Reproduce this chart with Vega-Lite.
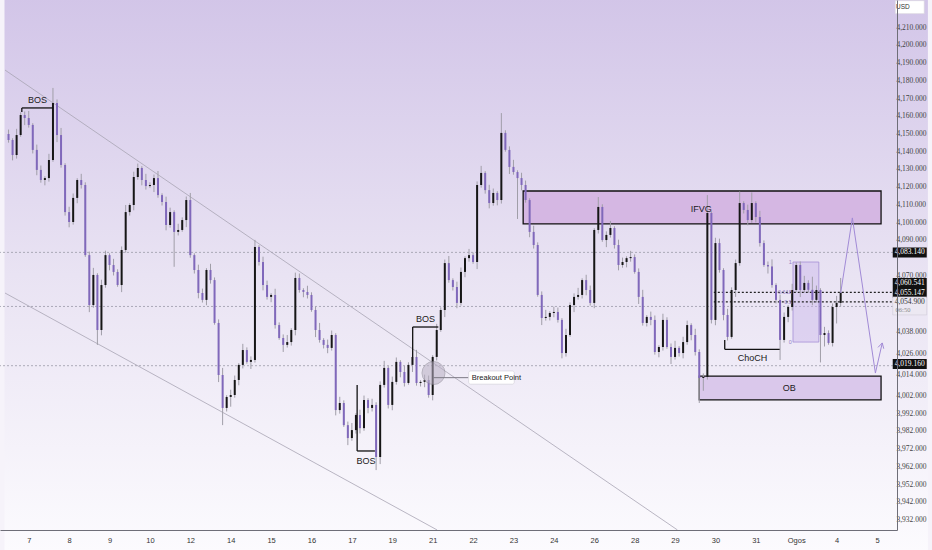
{
  "$schema": "https://vega.github.io/schema/vega-lite/v6.json",
  "width": 897,
  "height": 530,
  "autosize": {"type": "none"},
  "padding": {"left": 0, "top": 0, "right": 35, "bottom": 20},
  "background": "#f6f3fa",
  "config": {"view": {"stroke": null}, "font": "Liberation Sans"},
  "datasets": {
    "bg": [{"t1": -6, "t2": 222.6, "p1": 4227, "p2": 3914}],
    "ylabels": [
      {"p": 4210}, {"p": 4200}, {"p": 4190}, {"p": 4180}, {"p": 4170}, {"p": 4160}, {"p": 4150},
      {"p": 4140}, {"p": 4130}, {"p": 4120}, {"p": 4110}, {"p": 4100}, {"p": 4090}, {"p": 4070},
      {"p": 4038}, {"p": 4026}, {"p": 4014}, {"p": 4002}, {"p": 3992}, {"p": 3982}, {"p": 3972},
      {"p": 3962}, {"p": 3952}, {"p": 3942}, {"p": 3932}
    ],
    "hlines": [{"p": 4083.14}, {"p": 4052.6}, {"p": 4019.16}],
    "fiblevels": [
      {"t1": 169.6, "t2": 213.71, "p": 4060.541},
      {"t1": 169.6, "t2": 213.71, "p": 4055.147}
    ],
    "channel": [
      {"t1": -5.875, "p1": 4186.1, "t2": 160.6, "p2": 3926.4},
      {"t1": -5.875, "p1": 4060.2, "t2": 101.1, "p2": 3926.4}
    ],
    "zones": [
      {"name": "IFVG", "t1": 122.4, "t2": 211.0, "p1": 4117.8, "p2": 4099.2},
      {"name": "OB", "t1": 166.0, "t2": 211.0, "p1": 4013.3, "p2": 3999.8}
    ],
    "fibbox": [{"t1": 189.2, "t2": 195.6, "p1": 4077.7, "p2": 4032.5}],
    "brackets": [
      {"t1": -1.71, "p1": 4164.7, "t2": 5.88, "p2": 4164.7},
      {"t1": -1.71, "p1": 4164.7, "t2": -1.71, "p2": 4162.4},
      {"t1": 81.3, "p1": 3971.0, "t2": 85.7, "p2": 3971.0},
      {"t1": 81.3, "p1": 4008.3, "t2": 81.3, "p2": 3971.0},
      {"t1": 95.05, "p1": 4041.0, "t2": 101.4, "p2": 4041.0},
      {"t1": 95.05, "p1": 4041.0, "t2": 95.05, "p2": 4024.1},
      {"t1": 172.3, "p1": 4028.4, "t2": 185.9, "p2": 4028.4},
      {"t1": 172.3, "p1": 4033.7, "t2": 172.3, "p2": 4028.4}
    ],
    "labels": [
      {"t": 2.2, "p": 4169.2, "txt": "BOS"},
      {"t": 83.5, "p": 3965.4, "txt": "BOS"},
      {"t": 98.2, "p": 4045.5, "txt": "BOS"},
      {"t": 179.2, "p": 4023.7, "txt": "ChoCH"},
      {"t": 166.5, "p": 4107.6, "txt": "IFVG"},
      {"t": 188.3, "p": 4006.4, "txt": "OB"}
    ],
    "fiblabels": [
      {"t": 188.9, "p": 4077.7, "txt": "1"},
      {"t": 188.9, "p": 4060.5, "txt": "0.618"},
      {"t": 188.9, "p": 4055.1, "txt": "0.5"},
      {"t": 188.9, "p": 4032.5, "txt": "0"}
    ],
    "breakout": [{"t": 100.2, "p": 4015.0}],
    "breakoutlink": [{"t1": 100.2, "t2": 108.9, "p": 4012.4}],
    "breakoutbox": [{"t1": 108.9, "t2": 120.2, "p1": 4016.2, "p2": 4008.7, "t": 109.7, "p": 4012.4, "txt": "Breakout Point"}],
    "path": [
      {"i": 0, "t": 201.0, "p": 4060.2},
      {"i": 1, "t": 203.9, "p": 4102.6},
      {"i": 2, "t": 209.6, "p": 4015.0},
      {"i": 3, "t": 211.3, "p": 4032.0}
    ],
    "arrowhead": [
      {"t1": 210.25, "p1": 4029.5, "t2": 211.3, "p2": 4032.0},
      {"t1": 211.67, "p1": 4028.75, "t2": 211.3, "p2": 4032.0}
    ],
    "tags": [
      {"t": 218.1, "p": 4083.14, "txt": "4,083.140"},
      {"t": 218.1, "p": 4065.9, "txt": "4,060.541"},
      {"t": 218.1, "p": 4060.2, "txt": "4,055.147"},
      {"t": 218.1, "p": 4020.1, "txt": "4,019.160"}
    ],
    "countdown": [{"t": 218.1, "p": 4052.9, "tx": 214.6, "p1": 4055.1, "p2": 4050.6, "txt": "4,054.900", "txt2": "06:50"}],
    "usd": [{"t": 218.1, "p": 4221.6, "tx": 214.7, "txt": "USD"}],
    "candles": [
      {"t": -5, "o": 4150.0, "h": 4152.5, "l": 4145.1, "c": 4146.6},
      {"t": -4, "o": 4146.6, "h": 4147.6, "l": 4135.1, "c": 4138.1},
      {"t": -3, "o": 4138.1, "h": 4152.9, "l": 4136.1, "c": 4149.4},
      {"t": -2, "o": 4149.4, "h": 4162.2, "l": 4148.4, "c": 4160.7},
      {"t": -1, "o": 4160.7, "h": 4162.7, "l": 4155.0, "c": 4159.0},
      {"t": 0, "o": 4159.0, "h": 4163.0, "l": 4153.6, "c": 4155.1},
      {"t": 1, "o": 4155.1, "h": 4156.1, "l": 4139.0, "c": 4141.0},
      {"t": 2, "o": 4141.0, "h": 4144.0, "l": 4126.7, "c": 4129.7},
      {"t": 3, "o": 4129.7, "h": 4132.2, "l": 4122.5, "c": 4124.0},
      {"t": 4, "o": 4124.0, "h": 4126.1, "l": 4121.0, "c": 4125.1},
      {"t": 5, "o": 4125.1, "h": 4138.8, "l": 4123.1, "c": 4135.3},
      {"t": 6, "o": 4135.3, "h": 4176.0, "l": 4134.3, "c": 4167.5},
      {"t": 7, "o": 4167.5, "h": 4169.5, "l": 4145.4, "c": 4149.4},
      {"t": 8, "o": 4149.4, "h": 4153.4, "l": 4131.0, "c": 4132.5},
      {"t": 9, "o": 4132.5, "h": 4133.5, "l": 4103.9, "c": 4105.9},
      {"t": 10, "o": 4105.9, "h": 4108.9, "l": 4097.3, "c": 4100.3},
      {"t": 11, "o": 4100.3, "h": 4116.4, "l": 4098.8, "c": 4113.9},
      {"t": 12, "o": 4113.9, "h": 4125.0, "l": 4110.9, "c": 4124.0},
      {"t": 13, "o": 4124.0, "h": 4127.5, "l": 4119.2, "c": 4121.2},
      {"t": 14, "o": 4121.2, "h": 4122.7, "l": 4080.6, "c": 4081.6},
      {"t": 15, "o": 4081.6, "h": 4083.6, "l": 4049.4, "c": 4053.4},
      {"t": 16, "o": 4053.4, "h": 4074.4, "l": 4051.9, "c": 4070.4},
      {"t": 17, "o": 4070.4, "h": 4071.4, "l": 4030.9, "c": 4039.3},
      {"t": 18, "o": 4039.3, "h": 4067.7, "l": 4036.3, "c": 4064.7},
      {"t": 19, "o": 4064.7, "h": 4084.1, "l": 4063.2, "c": 4081.6},
      {"t": 20, "o": 4081.6, "h": 4082.6, "l": 4073.0, "c": 4076.0},
      {"t": 21, "o": 4076.0, "h": 4079.5, "l": 4070.1, "c": 4072.1},
      {"t": 22, "o": 4072.1, "h": 4073.6, "l": 4063.7, "c": 4064.7},
      {"t": 23, "o": 4064.7, "h": 4086.5, "l": 4060.7, "c": 4084.5},
      {"t": 24, "o": 4084.5, "h": 4109.9, "l": 4083.0, "c": 4105.9},
      {"t": 25, "o": 4105.9, "h": 4110.9, "l": 4103.9, "c": 4109.9},
      {"t": 26, "o": 4109.9, "h": 4128.7, "l": 4106.9, "c": 4125.7},
      {"t": 27, "o": 4125.7, "h": 4133.3, "l": 4124.2, "c": 4130.8},
      {"t": 28, "o": 4130.8, "h": 4131.8, "l": 4121.0, "c": 4124.0},
      {"t": 29, "o": 4124.0, "h": 4127.5, "l": 4118.6, "c": 4120.6},
      {"t": 30, "o": 4120.6, "h": 4122.7, "l": 4119.6, "c": 4121.2},
      {"t": 31, "o": 4121.2, "h": 4127.1, "l": 4117.2, "c": 4125.1},
      {"t": 32, "o": 4125.1, "h": 4129.1, "l": 4114.0, "c": 4115.5},
      {"t": 33, "o": 4115.5, "h": 4116.5, "l": 4109.6, "c": 4111.6},
      {"t": 34, "o": 4111.6, "h": 4114.6, "l": 4095.6, "c": 4098.6},
      {"t": 35, "o": 4098.6, "h": 4108.4, "l": 4097.1, "c": 4105.9},
      {"t": 36, "o": 4105.9, "h": 4106.9, "l": 4075.0, "c": 4094.7},
      {"t": 37, "o": 4094.7, "h": 4099.3, "l": 4092.7, "c": 4095.8},
      {"t": 38, "o": 4095.8, "h": 4102.9, "l": 4094.8, "c": 4101.4},
      {"t": 39, "o": 4101.4, "h": 4114.7, "l": 4097.4, "c": 4112.7},
      {"t": 40, "o": 4112.7, "h": 4116.7, "l": 4080.1, "c": 4081.6},
      {"t": 41, "o": 4081.6, "h": 4082.6, "l": 4071.2, "c": 4073.2},
      {"t": 42, "o": 4073.2, "h": 4076.2, "l": 4057.2, "c": 4060.2},
      {"t": 43, "o": 4060.2, "h": 4062.7, "l": 4054.8, "c": 4056.3},
      {"t": 44, "o": 4056.3, "h": 4074.2, "l": 4053.3, "c": 4073.2},
      {"t": 45, "o": 4073.2, "h": 4076.7, "l": 4065.5, "c": 4067.5},
      {"t": 46, "o": 4067.5, "h": 4069.0, "l": 4042.3, "c": 4043.3},
      {"t": 47, "o": 4043.3, "h": 4045.3, "l": 4009.9, "c": 4013.9},
      {"t": 48, "o": 4013.9, "h": 4017.9, "l": 3985.6, "c": 3995.3},
      {"t": 49, "o": 3995.3, "h": 4002.5, "l": 3993.3, "c": 4001.5},
      {"t": 50, "o": 4001.5, "h": 4005.6, "l": 3996.0, "c": 4002.6},
      {"t": 51, "o": 4002.6, "h": 4013.6, "l": 4001.1, "c": 4011.1},
      {"t": 52, "o": 4011.1, "h": 4020.6, "l": 4008.1, "c": 4019.6},
      {"t": 53, "o": 4019.6, "h": 4031.5, "l": 4017.6, "c": 4028.0},
      {"t": 54, "o": 4028.0, "h": 4029.5, "l": 4020.3, "c": 4021.3},
      {"t": 55, "o": 4021.3, "h": 4024.4, "l": 4017.3, "c": 4022.4},
      {"t": 56, "o": 4022.4, "h": 4090.2, "l": 4020.9, "c": 4086.2},
      {"t": 57, "o": 4086.2, "h": 4087.2, "l": 4075.7, "c": 4077.7},
      {"t": 58, "o": 4077.7, "h": 4080.7, "l": 4061.7, "c": 4064.7},
      {"t": 59, "o": 4064.7, "h": 4067.2, "l": 4056.5, "c": 4058.0},
      {"t": 60, "o": 4058.0, "h": 4060.1, "l": 4055.0, "c": 4059.1},
      {"t": 61, "o": 4059.1, "h": 4062.6, "l": 4040.1, "c": 4042.1},
      {"t": 62, "o": 4042.1, "h": 4043.6, "l": 4033.8, "c": 4034.8},
      {"t": 63, "o": 4034.8, "h": 4036.8, "l": 4026.9, "c": 4030.9},
      {"t": 64, "o": 4030.9, "h": 4036.5, "l": 4029.4, "c": 4032.5},
      {"t": 65, "o": 4032.5, "h": 4040.3, "l": 4030.5, "c": 4039.3},
      {"t": 66, "o": 4039.3, "h": 4071.7, "l": 4036.3, "c": 4068.7},
      {"t": 67, "o": 4068.7, "h": 4071.2, "l": 4060.4, "c": 4061.9},
      {"t": 68, "o": 4061.9, "h": 4062.9, "l": 4057.8, "c": 4060.8},
      {"t": 69, "o": 4060.8, "h": 4064.3, "l": 4057.1, "c": 4059.1},
      {"t": 70, "o": 4059.1, "h": 4060.6, "l": 4049.6, "c": 4050.6},
      {"t": 71, "o": 4050.6, "h": 4052.6, "l": 4035.3, "c": 4039.3},
      {"t": 72, "o": 4039.3, "h": 4043.3, "l": 4032.2, "c": 4033.7},
      {"t": 73, "o": 4033.7, "h": 4034.7, "l": 4028.9, "c": 4030.9},
      {"t": 74, "o": 4030.9, "h": 4033.9, "l": 4026.2, "c": 4029.2},
      {"t": 75, "o": 4029.2, "h": 4039.0, "l": 4027.7, "c": 4036.5},
      {"t": 76, "o": 4036.5, "h": 4037.5, "l": 3991.1, "c": 3994.1},
      {"t": 77, "o": 3994.1, "h": 4001.6, "l": 3992.1, "c": 3998.1},
      {"t": 78, "o": 3998.1, "h": 3999.6, "l": 3984.6, "c": 3985.6},
      {"t": 79, "o": 3985.6, "h": 3987.6, "l": 3974.3, "c": 3978.3},
      {"t": 80, "o": 3978.3, "h": 3986.8, "l": 3976.8, "c": 3982.8},
      {"t": 81, "o": 3982.8, "h": 3992.3, "l": 3980.8, "c": 3991.3},
      {"t": 82, "o": 3991.3, "h": 3994.3, "l": 3980.9, "c": 3983.9},
      {"t": 83, "o": 3983.9, "h": 4002.3, "l": 3982.4, "c": 3999.8},
      {"t": 84, "o": 3999.8, "h": 4000.8, "l": 3992.3, "c": 3995.3},
      {"t": 85, "o": 3995.3, "h": 4000.5, "l": 3993.3, "c": 3997.0},
      {"t": 86, "o": 3997.0, "h": 3998.5, "l": 3960.2, "c": 3967.6},
      {"t": 87, "o": 3967.6, "h": 4010.3, "l": 3963.6, "c": 4008.3},
      {"t": 88, "o": 4008.3, "h": 4021.9, "l": 4006.8, "c": 4017.9},
      {"t": 89, "o": 4017.9, "h": 4018.9, "l": 3995.0, "c": 3997.0},
      {"t": 90, "o": 3997.0, "h": 4013.0, "l": 3994.0, "c": 4010.0},
      {"t": 91, "o": 4010.0, "h": 4023.8, "l": 4008.5, "c": 4021.3},
      {"t": 92, "o": 4021.3, "h": 4022.3, "l": 4012.6, "c": 4015.6},
      {"t": 93, "o": 4015.6, "h": 4019.1, "l": 4007.4, "c": 4009.4},
      {"t": 94, "o": 4009.4, "h": 4021.1, "l": 4008.4, "c": 4019.6},
      {"t": 95, "o": 4019.6, "h": 4026.1, "l": 4015.6, "c": 4024.1},
      {"t": 96, "o": 4024.1, "h": 4028.1, "l": 4007.9, "c": 4009.4},
      {"t": 97, "o": 4009.4, "h": 4011.0, "l": 4007.4, "c": 4010.0},
      {"t": 98, "o": 4010.0, "h": 4014.1, "l": 4007.0, "c": 4011.1},
      {"t": 99, "o": 4011.1, "h": 4013.6, "l": 4001.1, "c": 4002.6},
      {"t": 100, "o": 4002.6, "h": 4025.1, "l": 3999.6, "c": 4024.1},
      {"t": 101, "o": 4024.1, "h": 4042.8, "l": 4022.1, "c": 4039.3},
      {"t": 102, "o": 4039.3, "h": 4052.1, "l": 4038.3, "c": 4050.6},
      {"t": 103, "o": 4050.6, "h": 4079.1, "l": 4046.6, "c": 4077.1},
      {"t": 104, "o": 4077.1, "h": 4081.1, "l": 4066.0, "c": 4067.5},
      {"t": 105, "o": 4067.5, "h": 4068.5, "l": 4061.6, "c": 4063.6},
      {"t": 106, "o": 4063.6, "h": 4066.6, "l": 4051.6, "c": 4054.6},
      {"t": 107, "o": 4054.6, "h": 4074.6, "l": 4053.1, "c": 4072.1},
      {"t": 108, "o": 4072.1, "h": 4080.9, "l": 4069.1, "c": 4079.9},
      {"t": 109, "o": 4079.9, "h": 4085.1, "l": 4077.9, "c": 4081.6},
      {"t": 110, "o": 4081.6, "h": 4083.1, "l": 4076.7, "c": 4077.7},
      {"t": 111, "o": 4077.7, "h": 4123.2, "l": 4073.7, "c": 4121.2},
      {"t": 112, "o": 4121.2, "h": 4132.0, "l": 4119.7, "c": 4128.0},
      {"t": 113, "o": 4128.0, "h": 4129.0, "l": 4116.3, "c": 4118.3},
      {"t": 114, "o": 4118.3, "h": 4121.3, "l": 4108.0, "c": 4111.0},
      {"t": 115, "o": 4111.0, "h": 4119.2, "l": 4109.5, "c": 4116.7},
      {"t": 116, "o": 4116.7, "h": 4117.7, "l": 4109.7, "c": 4112.7},
      {"t": 117, "o": 4112.7, "h": 4161.8, "l": 4110.7, "c": 4150.6},
      {"t": 118, "o": 4150.6, "h": 4152.1, "l": 4140.0, "c": 4141.0},
      {"t": 119, "o": 4141.0, "h": 4143.0, "l": 4127.4, "c": 4131.4},
      {"t": 120, "o": 4131.4, "h": 4135.4, "l": 4127.0, "c": 4128.5},
      {"t": 121, "o": 4128.5, "h": 4129.5, "l": 4102.0, "c": 4125.1},
      {"t": 122, "o": 4125.1, "h": 4128.1, "l": 4118.2, "c": 4121.2},
      {"t": 123, "o": 4121.2, "h": 4123.7, "l": 4111.2, "c": 4112.7},
      {"t": 124, "o": 4112.7, "h": 4113.7, "l": 4091.7, "c": 4094.7},
      {"t": 125, "o": 4094.7, "h": 4098.2, "l": 4085.3, "c": 4087.3},
      {"t": 126, "o": 4087.3, "h": 4088.8, "l": 4058.1, "c": 4059.1},
      {"t": 127, "o": 4059.1, "h": 4061.1, "l": 4042.1, "c": 4046.1},
      {"t": 128, "o": 4046.1, "h": 4050.7, "l": 4044.6, "c": 4046.7},
      {"t": 129, "o": 4046.7, "h": 4049.9, "l": 4044.7, "c": 4048.9},
      {"t": 130, "o": 4048.9, "h": 4052.5, "l": 4046.5, "c": 4049.5},
      {"t": 131, "o": 4049.5, "h": 4052.0, "l": 4043.5, "c": 4045.0},
      {"t": 132, "o": 4045.0, "h": 4046.0, "l": 4023.3, "c": 4026.3},
      {"t": 133, "o": 4026.3, "h": 4040.0, "l": 4024.3, "c": 4036.5},
      {"t": 134, "o": 4036.5, "h": 4054.9, "l": 4035.5, "c": 4053.4},
      {"t": 135, "o": 4053.4, "h": 4060.0, "l": 4049.4, "c": 4058.0},
      {"t": 136, "o": 4058.0, "h": 4063.1, "l": 4056.5, "c": 4059.1},
      {"t": 137, "o": 4059.1, "h": 4068.5, "l": 4057.1, "c": 4067.5},
      {"t": 138, "o": 4067.5, "h": 4070.5, "l": 4058.9, "c": 4061.9},
      {"t": 139, "o": 4061.9, "h": 4064.4, "l": 4053.1, "c": 4054.6},
      {"t": 140, "o": 4054.6, "h": 4096.8, "l": 4051.6, "c": 4095.8},
      {"t": 141, "o": 4095.8, "h": 4114.4, "l": 4093.8, "c": 4108.8},
      {"t": 142, "o": 4108.8, "h": 4110.3, "l": 4089.1, "c": 4090.1},
      {"t": 143, "o": 4090.1, "h": 4095.0, "l": 4086.1, "c": 4093.0},
      {"t": 144, "o": 4093.0, "h": 4100.9, "l": 4091.5, "c": 4096.9},
      {"t": 145, "o": 4096.9, "h": 4097.9, "l": 4085.3, "c": 4087.3},
      {"t": 146, "o": 4087.3, "h": 4090.3, "l": 4073.0, "c": 4076.0},
      {"t": 147, "o": 4076.0, "h": 4080.2, "l": 4074.5, "c": 4077.7},
      {"t": 148, "o": 4077.7, "h": 4080.9, "l": 4074.7, "c": 4079.9},
      {"t": 149, "o": 4079.9, "h": 4084.0, "l": 4077.9, "c": 4080.5},
      {"t": 150, "o": 4080.5, "h": 4082.0, "l": 4071.1, "c": 4072.1},
      {"t": 151, "o": 4072.1, "h": 4074.1, "l": 4054.0, "c": 4058.0},
      {"t": 152, "o": 4058.0, "h": 4062.0, "l": 4041.8, "c": 4043.3},
      {"t": 153, "o": 4043.3, "h": 4047.7, "l": 4041.3, "c": 4046.7},
      {"t": 154, "o": 4046.7, "h": 4049.7, "l": 4042.0, "c": 4045.0},
      {"t": 155, "o": 4045.0, "h": 4047.5, "l": 4025.4, "c": 4026.9},
      {"t": 156, "o": 4026.9, "h": 4030.7, "l": 4023.9, "c": 4029.7},
      {"t": 157, "o": 4029.7, "h": 4048.5, "l": 4027.7, "c": 4045.0},
      {"t": 158, "o": 4045.0, "h": 4046.5, "l": 4028.7, "c": 4029.7},
      {"t": 159, "o": 4029.7, "h": 4031.7, "l": 4020.1, "c": 4024.1},
      {"t": 160, "o": 4024.1, "h": 4033.2, "l": 4022.6, "c": 4029.2},
      {"t": 161, "o": 4029.2, "h": 4030.2, "l": 4024.3, "c": 4026.3},
      {"t": 162, "o": 4026.3, "h": 4035.5, "l": 4023.3, "c": 4032.5},
      {"t": 163, "o": 4032.5, "h": 4044.6, "l": 4031.0, "c": 4042.1},
      {"t": 164, "o": 4042.1, "h": 4043.1, "l": 4033.5, "c": 4036.5},
      {"t": 165, "o": 4036.5, "h": 4040.0, "l": 4024.9, "c": 4026.9},
      {"t": 166, "o": 4026.9, "h": 4028.4, "l": 3998.1, "c": 4012.2},
      {"t": 167, "o": 4012.2, "h": 4014.8, "l": 4005.0, "c": 4012.8},
      {"t": 168, "o": 4012.8, "h": 4115.5, "l": 4011.3, "c": 4105.4},
      {"t": 169, "o": 4105.4, "h": 4106.4, "l": 4043.0, "c": 4045.0},
      {"t": 170, "o": 4045.0, "h": 4091.4, "l": 4042.0, "c": 4088.4},
      {"t": 171, "o": 4088.4, "h": 4090.9, "l": 4071.7, "c": 4073.2},
      {"t": 172, "o": 4073.2, "h": 4074.2, "l": 4044.8, "c": 4047.8},
      {"t": 173, "o": 4047.8, "h": 4051.3, "l": 4033.4, "c": 4035.4},
      {"t": 174, "o": 4035.4, "h": 4063.4, "l": 4034.4, "c": 4061.9},
      {"t": 175, "o": 4061.9, "h": 4079.1, "l": 4058.0, "c": 4077.1},
      {"t": 176, "o": 4077.1, "h": 4117.5, "l": 4075.6, "c": 4111.0},
      {"t": 177, "o": 4111.0, "h": 4112.0, "l": 4105.1, "c": 4107.1},
      {"t": 178, "o": 4107.1, "h": 4110.1, "l": 4098.4, "c": 4101.4},
      {"t": 179, "o": 4101.4, "h": 4117.0, "l": 4099.9, "c": 4111.0},
      {"t": 180, "o": 4111.0, "h": 4112.0, "l": 4100.1, "c": 4103.1},
      {"t": 181, "o": 4103.1, "h": 4106.6, "l": 4086.4, "c": 4088.4},
      {"t": 182, "o": 4088.4, "h": 4089.9, "l": 4075.0, "c": 4076.0},
      {"t": 183, "o": 4076.0, "h": 4078.0, "l": 4071.2, "c": 4075.2},
      {"t": 184, "o": 4075.2, "h": 4079.2, "l": 4063.2, "c": 4064.7},
      {"t": 185, "o": 4064.7, "h": 4065.7, "l": 4054.3, "c": 4056.3},
      {"t": 186, "o": 4056.3, "h": 4059.3, "l": 4022.4, "c": 4033.7},
      {"t": 187, "o": 4033.7, "h": 4049.2, "l": 4032.2, "c": 4046.7},
      {"t": 188, "o": 4046.7, "h": 4053.3, "l": 4043.7, "c": 4052.3},
      {"t": 189, "o": 4052.3, "h": 4065.4, "l": 4050.3, "c": 4061.9},
      {"t": 190, "o": 4061.9, "h": 4077.5, "l": 4060.9, "c": 4076.0},
      {"t": 191, "o": 4076.0, "h": 4078.0, "l": 4057.9, "c": 4061.9},
      {"t": 192, "o": 4061.9, "h": 4069.9, "l": 4060.4, "c": 4065.9},
      {"t": 193, "o": 4065.9, "h": 4067.4, "l": 4060.4, "c": 4062.0},
      {"t": 194, "o": 4062.0, "h": 4069.4, "l": 4053.3, "c": 4056.3},
      {"t": 195, "o": 4056.3, "h": 4064.4, "l": 4054.8, "c": 4061.9},
      {"t": 196, "o": 4061.9, "h": 4062.9, "l": 4021.0, "c": 4036.5},
      {"t": 197, "o": 4036.5, "h": 4041.1, "l": 4030.0, "c": 4037.6},
      {"t": 198, "o": 4037.6, "h": 4039.1, "l": 4031.0, "c": 4032.0},
      {"t": 199, "o": 4032.0, "h": 4054.3, "l": 4030.0, "c": 4052.3},
      {"t": 200, "o": 4052.3, "h": 4058.6, "l": 4043.0, "c": 4054.6},
      {"t": 201, "o": 4054.6, "h": 4068.7, "l": 4052.6, "c": 4060.5}
    ]
  },
  "layer": [
    {
      "data": {"name": "bg"},
      "mark": {
        "type": "rect",
        "fill": {
          "gradient": "linear",
          "x1": 0, "y1": 0, "x2": 0, "y2": 1,
          "stops": [
            {"offset": 0, "color": "#d2c5e8"},
            {"offset": 0.5, "color": "#e9e3f3"},
            {"offset": 1, "color": "#fcfbfe"}
          ]
        }
      },
      "encoding": {
        "x": {
          "field": "t1", "type": "quantitative",
          "scale": {"domain": [-5.875, 213.71], "nice": false, "zero": false},
          "axis": {
            "title": null, "zindex": 1, "values": [0, 10, 20, 30, 40, 50, 60, 70, 80, 90, 100, 110, 120, 130, 140, 150, 160, 170, 180, 190, 200, 210],
            "labelExpr": "['7','8','9','10','12','14','15','16','17','19','21','22','23','24','26','28','29','30','31','Ogos','4','5'][round(datum.value / 10)]",
            "ticks": false, "grid": false, "labelPadding": 6, "labelFontSize": 7.5, "labelColor": "#333333",
            "domainColor": "#6e6e78", "domainWidth": 1, "labelFont": "Liberation Sans", "labelOverlap": false
          }
        },
        "x2": {"field": "t2"},
        "y": {
          "field": "p1", "type": "quantitative",
          "scale": {"domain": [3926.38, 4225.65], "nice": false, "zero": false},
          "axis": {
            "title": null, "orient": "right", "zindex": 1, "labels": false,
            "ticks": false, "grid": false, "domainColor": "#6e6e78", "domainWidth": 1
          }
        },
        "y2": {"field": "p2"}
      }
    },
    {
      "data": {"name": "ylabels"},
      "mark": {"type": "text", "fontSize": 7.5, "font": "Liberation Sans Narrow", "color": "#444444", "align": "left", "baseline": "middle"},
      "encoding": {
        "x": {"datum": 214.8, "type": "quantitative"},
        "y": {"field": "p", "type": "quantitative"},
        "text": {"field": "p", "type": "quantitative", "format": ",.3f"}
      }
    },
    {
      "data": {"name": "hlines"},
      "mark": {"type": "rule", "color": "#9c9aa8", "strokeWidth": 0.8, "strokeDash": [2, 2]},
      "encoding": {"y": {"field": "p", "type": "quantitative"}}
    },
    {
      "data": {"name": "channel"},
      "mark": {"type": "rule", "color": "#a8a5b4", "strokeWidth": 0.8},
      "encoding": {
        "x": {"field": "t1", "type": "quantitative"},
        "x2": {"field": "t2"},
        "y": {"field": "p1", "type": "quantitative"},
        "y2": {"field": "p2"}
      }
    },
    {
      "data": {"name": "zones"},
      "mark": {"type": "rect", "stroke": "#111111", "strokeWidth": 1.3},
      "encoding": {
        "x": {"field": "t1", "type": "quantitative"},
        "x2": {"field": "t2"},
        "y": {"field": "p1", "type": "quantitative"},
        "y2": {"field": "p2"},
        "fill": {
          "field": "name", "type": "nominal", "legend": null,
          "scale": {"domain": ["IFVG", "OB"], "range": ["#d5b7e3", "#dac8eb"]}
        }
      }
    },
    {
      "data": {"name": "fibbox"},
      "mark": {"type": "rect", "fill": "#c9b6ea", "fillOpacity": 0.45, "stroke": "#a48fd6", "strokeWidth": 0.8},
      "encoding": {
        "x": {"field": "t1", "type": "quantitative"},
        "x2": {"field": "t2"},
        "y": {"field": "p1", "type": "quantitative"},
        "y2": {"field": "p2"}
      }
    },
    {
      "data": {"name": "fiblevels"},
      "mark": {"type": "rule", "color": "#222222", "strokeWidth": 1.2, "strokeDash": [2, 2]},
      "encoding": {
        "x": {"field": "t1", "type": "quantitative"},
        "x2": {"field": "t2"},
        "y": {"field": "p", "type": "quantitative"}
      }
    },
    {
      "data": {"name": "candles"},
      "mark": {"type": "rule", "color": "#a09ea8", "strokeWidth": 1},
      "encoding": {
        "x": {"field": "t", "type": "quantitative"},
        "y": {"field": "l", "type": "quantitative"},
        "y2": {"field": "h"}
      }
    },
    {
      "data": {"name": "candles"},
      "mark": {"type": "bar", "width": 2},
      "encoding": {
        "x": {"field": "t", "type": "quantitative"},
        "y": {"field": "o", "type": "quantitative"},
        "y2": {"field": "c"},
        "color": {
          "condition": {"test": "datum.c >= datum.o", "value": "#161616"},
          "value": "#8068bb"
        }
      }
    },
    {
      "data": {"name": "brackets"},
      "mark": {"type": "rule", "color": "#111111", "strokeWidth": 1.3},
      "encoding": {
        "x": {"field": "t1", "type": "quantitative"},
        "x2": {"field": "t2"},
        "y": {"field": "p1", "type": "quantitative"},
        "y2": {"field": "p2"}
      }
    },
    {
      "data": {"name": "labels"},
      "mark": {"type": "text", "fontSize": 9, "color": "#1a1a1a", "font": "Liberation Sans", "baseline": "middle"},
      "encoding": {
        "x": {"field": "t", "type": "quantitative"},
        "y": {"field": "p", "type": "quantitative"},
        "text": {"field": "txt"}
      }
    },
    {
      "data": {"name": "fiblabels"},
      "mark": {"type": "text", "fontSize": 5.5, "color": "#9682c8", "align": "right", "baseline": "middle"},
      "encoding": {
        "x": {"field": "t", "type": "quantitative"},
        "y": {"field": "p", "type": "quantitative"},
        "text": {"field": "txt"}
      }
    },
    {
      "data": {"name": "breakout"},
      "mark": {"type": "point", "shape": "circle", "size": 530, "filled": true, "color": "#b9b0c4", "opacity": 0.55, "stroke": "#8c8894", "strokeWidth": 1, "strokeOpacity": 1},
      "encoding": {
        "x": {"field": "t", "type": "quantitative"},
        "y": {"field": "p", "type": "quantitative"}
      }
    },
    {
      "data": {"name": "breakoutlink"},
      "mark": {"type": "rule", "color": "#7c7a84", "strokeWidth": 1},
      "encoding": {
        "x": {"field": "t1", "type": "quantitative"},
        "x2": {"field": "t2"},
        "y": {"field": "p", "type": "quantitative"}
      }
    },
    {
      "data": {"name": "breakoutbox"},
      "layer": [
        {
          "mark": {"type": "rect", "fill": "#ffffff", "stroke": "#d8d5de", "strokeWidth": 0.8, "cornerRadius": 2},
          "encoding": {
            "x": {"field": "t1", "type": "quantitative"},
            "x2": {"field": "t2"},
            "y": {"field": "p1", "type": "quantitative"},
            "y2": {"field": "p2"}
          }
        },
        {
          "mark": {"type": "text", "fontSize": 7.5, "color": "#222222", "align": "left", "baseline": "middle"},
          "encoding": {
            "x": {"field": "t", "type": "quantitative"},
            "y": {"field": "p", "type": "quantitative"},
            "text": {"field": "txt"}
          }
        }
      ]
    },
    {
      "data": {"name": "path"},
      "mark": {"type": "line", "color": "#a18ad6", "strokeWidth": 1},
      "encoding": {
        "x": {"field": "t", "type": "quantitative"},
        "y": {"field": "p", "type": "quantitative"},
        "order": {"field": "i"}
      }
    },
    {
      "data": {"name": "arrowhead"},
      "mark": {"type": "rule", "color": "#a18ad6", "strokeWidth": 1},
      "encoding": {
        "x": {"field": "t1", "type": "quantitative"},
        "x2": {"field": "t2"},
        "y": {"field": "p1", "type": "quantitative"},
        "y2": {"field": "p2"}
      }
    },
    {
      "data": {"name": "tags"},
      "layer": [
        {
          "mark": {"type": "tick", "orient": "horizontal", "size": 34, "thickness": 10, "color": "#111111", "opacity": 1},
          "encoding": {
            "x": {"field": "t", "type": "quantitative"},
            "y": {"field": "p", "type": "quantitative"}
          }
        },
        {
          "mark": {"type": "text", "fontSize": 7.5, "font": "Liberation Sans Narrow", "color": "#ffffff", "align": "center", "baseline": "middle"},
          "encoding": {
            "x": {"field": "t", "type": "quantitative"},
            "y": {"field": "p", "type": "quantitative"},
            "text": {"field": "txt"}
          }
        }
      ]
    },
    {
      "data": {"name": "countdown"},
      "layer": [
        {
          "mark": {"type": "tick", "orient": "horizontal", "size": 34, "thickness": 18, "color": "#ece8f2", "stroke": "#cfcbd8", "strokeWidth": 0.6, "opacity": 1},
          "encoding": {
            "x": {"field": "t", "type": "quantitative"},
            "y": {"field": "p", "type": "quantitative"}
          }
        },
        {
          "mark": {"type": "text", "fontSize": 7.5, "font": "Liberation Sans Narrow", "color": "#333333", "align": "center", "baseline": "middle"},
          "encoding": {
            "x": {"field": "t", "type": "quantitative"},
            "y": {"field": "p1", "type": "quantitative"},
            "text": {"field": "txt"}
          }
        },
        {
          "mark": {"type": "text", "fontSize": 6.5, "font": "Liberation Sans Narrow", "color": "#888888", "align": "left", "baseline": "middle"},
          "encoding": {
            "x": {"field": "tx", "type": "quantitative"},
            "y": {"field": "p2", "type": "quantitative"},
            "text": {"field": "txt2"}
          }
        }
      ]
    },
    {
      "data": {"name": "usd"},
      "layer": [
        {
          "mark": {"type": "tick", "orient": "horizontal", "size": 29, "thickness": 13, "color": "#ffffff", "stroke": "#d6d3dc", "strokeWidth": 0.6, "opacity": 1},
          "encoding": {
            "x": {"field": "t", "type": "quantitative"},
            "y": {"field": "p", "type": "quantitative"}
          }
        },
        {
          "mark": {"type": "text", "fontSize": 6.5, "color": "#333333", "align": "left", "baseline": "middle"},
          "encoding": {
            "x": {"field": "tx", "type": "quantitative"},
            "y": {"field": "p", "type": "quantitative"},
            "text": {"field": "txt"}
          }
        }
      ]
    }
  ]
}
